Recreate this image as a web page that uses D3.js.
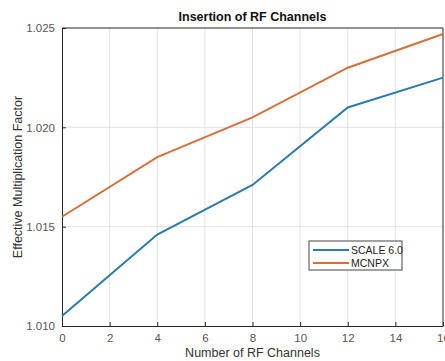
<!DOCTYPE html>
<html>
<head>
<meta charset="utf-8">
<script src="https://cdn.jsdelivr.net/npm/d3@7"></script>
<style>
  body { margin: 0; background: #fff; }
  text { font-family: "Liberation Sans", Arial, sans-serif; }
</style>
</head>
<body>
<div id="chart"></div>
<script>
// chart data
var channels = [0, 4, 8, 12, 16];
var scaleValues = [1.0105, 1.0146, 1.0171, 1.0210, 1.0225];
var mcnpxValues = [1.0155, 1.0185, 1.0205, 1.0230, 1.0247];
var xTicks = [0, 2, 4, 6, 8, 10, 12, 14, 16];
var yTicks = [1.010, 1.015, 1.020, 1.025];
var seriesNames = ["SCALE 6.0", "MCNPX"];
var seriesColors = ["#2b7bab", "#d5703e"];

var W = 445, H = 361;
var mLeft = 62, mRight = 443, mTop = 28, mBottom = 326;

var svg = d3.select("#chart").append("svg")
    .attr("width", W)
    .attr("height", H);

var x = d3.scaleLinear().domain([0, 16]).range([mLeft, mRight]);
var y = d3.scaleLinear().domain([1.010, 1.025]).range([mBottom, mTop]);

// grid
svg.append("g")
    .selectAll("line")
    .data(xTicks.slice(1, -1))
    .enter().append("line")
    .attr("x1", function(d) { return x(d); })
    .attr("x2", function(d) { return x(d); })
    .attr("y1", mTop).attr("y2", mBottom)
    .attr("stroke", "#e2e2e2").attr("stroke-width", 1);

svg.append("g")
    .selectAll("line")
    .data(yTicks.slice(1, -1))
    .enter().append("line")
    .attr("x1", mLeft).attr("x2", mRight)
    .attr("y1", function(d) { return y(d); })
    .attr("y2", function(d) { return y(d); })
    .attr("stroke", "#e2e2e2").attr("stroke-width", 1);

// axes
var xAxis = d3.axisBottom(x).tickValues(xTicks).tickSizeInner(-4).tickSizeOuter(0).tickPadding(8);
var yAxis = d3.axisLeft(y).tickValues(yTicks).tickFormat(d3.format(".3f")).tickSizeInner(-4).tickSizeOuter(0).tickPadding(7);

var gx = svg.append("g")
    .attr("transform", "translate(0," + mBottom + ")")
    .call(xAxis);
var gy = svg.append("g")
    .attr("transform", "translate(" + mLeft + ",0)")
    .call(yAxis);

[gx, gy].forEach(function(g) {
    g.selectAll("path").attr("stroke", "#262626");
    g.selectAll("line").attr("stroke", "#262626");
    g.selectAll("text").attr("fill", "#555").style("font-size", "11.5px");
});

// box top / right
svg.append("line").attr("x1", mLeft).attr("x2", mRight).attr("y1", mTop).attr("y2", mTop).attr("stroke", "#262626");
svg.append("line").attr("x1", mRight).attr("x2", mRight).attr("y1", mTop).attr("y2", mBottom).attr("stroke", "#262626");

// lines
var line = d3.line()
    .x(function(d, i) { return x(channels[i]); })
    .y(function(d) { return y(d); });

[scaleValues, mcnpxValues].forEach(function(vals, i) {
    svg.append("path")
        .datum(vals)
        .attr("d", line)
        .attr("fill", "none")
        .attr("stroke", seriesColors[i])
        .attr("stroke-width", 2);
});

// title & labels
svg.append("text")
    .attr("x", (mLeft + mRight) / 2).attr("y", 21)
    .attr("text-anchor", "middle")
    .style("font-size", "12.5px").style("font-weight", "bold")
    .attr("fill", "#111")
    .text("Insertion of RF Channels");

svg.append("text")
    .attr("x", (mLeft + mRight) / 2).attr("y", 357)
    .attr("text-anchor", "middle")
    .style("font-size", "12.5px")
    .attr("fill", "#333")
    .text("Number of RF Channels");

svg.append("text")
    .attr("transform", "translate(22," + ((mTop + mBottom) / 2) + ") rotate(-90)")
    .attr("text-anchor", "middle")
    .style("font-size", "12.5px")
    .attr("fill", "#333")
    .text("Effective Multiplication Factor");

// legend
var lg = svg.append("g").attr("transform", "translate(309,241)");
lg.append("rect")
    .attr("width", 93).attr("height", 29)
    .attr("fill", "#fff").attr("stroke", "#444").attr("stroke-width", 1);
seriesNames.forEach(function(name, i) {
    var yy = 9 + i * 13;
    lg.append("line")
        .attr("x1", 4).attr("x2", 40)
        .attr("y1", yy).attr("y2", yy)
        .attr("stroke", seriesColors[i]).attr("stroke-width", 2);
    lg.append("text")
        .attr("x", 42).attr("y", yy + 4)
        .style("font-size", "10.5px")
        .attr("fill", "#222")
        .text(name);
});
</script>
</body>
</html>
